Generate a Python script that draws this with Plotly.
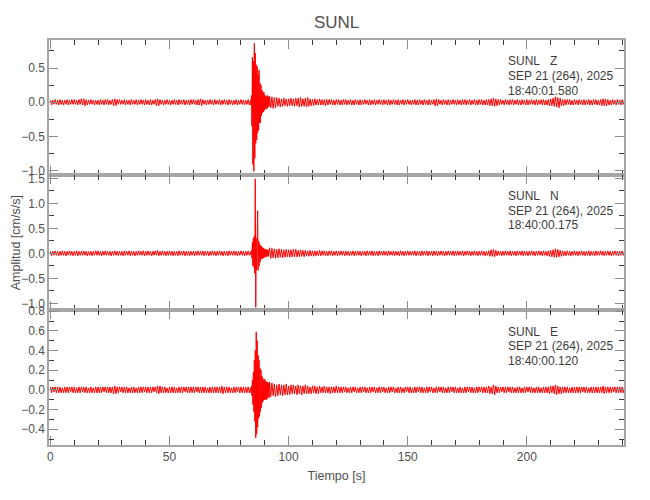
import numpy as np
import plotly.graph_objects as go
from plotly.subplots import make_subplots

# ---- data (amplitudes in hundredths of cm/s/s) ----
# segments: pre-event (0 s .. 83.5 s, every 0.5 s), event (84.0 .. 91.8 s, every 0.2 s),
# post-event (92 s .., every 0.5 s)
PRE_START, PRE_STEP = 0.0, 0.5
EVT_START, EVT_STEP = 84.0, 0.2
POST_START, POST_STEP = 92.0, 0.5

Z_PRE = [3,-4,3,-3,4,-3,3,-4,4,-3,3,-4,3,-3,4,-4,3,-3,4,-3,
         4,-3,3,-4,4,-3,5,-4,5,-5,4,-4,3,-3,4,-3,3,-4,3,-3,
         3,-4,4,-3,3,-4,4,-3,4,-4,3,-3,4,-5,5,-5,4,-3,4,-3,
         3,-3,4,-4,3,-3,3,-4,4,-3,3,-3,4,-4,3,-3,4,-3,3,-4,
         4,-3,3,-4,4,-4,3,-3,4,-5,5,-5,4,-3,3,-4,3,-3,4,-3,
         3,-4,3,-3,4,-3,3,-4,4,-3,3,-3,4,-4,3,-3,3,-4,4,-3,
         4,-3,3,-4,4,-4,5,-5,4,-3,3,-4,3,-3,4,-3,3,-4,4,-3,
         3,-3,4,-4,3,-3,4,-3,3,-4,4,-3,3,-4,3,-3,4,-4,3,-3,
         4,-3,3,-4,3,-3,4,-4]
Z_EVT = [3,-4,10,-35,66,-91,60,-101,86,-82,72,-60,55,-55,52,-45,40,-41,47,-30,
         28,-30,25,-20,18,-16,15,-14,15,-12,11,-10,9,-10,8,-9,10,-7,8,-6]
Z_POST = [9,-8,8,-9,7,-8,7,-6,6,-7,5,-6,6,-5,5,-6,5,-5,6,-5,
          5,-6,6,-5,6,-7,7,-6,5,-6,6,-7,7,-6,5,-5,4,-5,5,-4,
          4,-4,5,-4,4,-4,4,-5,4,-4,4,-3,4,-4,3,-4,4,-3,4,-4,
          3,-4,4,-3,4,-4,3,-3,4,-4,3,-4,4,-3,3,-4,4,-4,3,-3,
          4,-3,3,-4,4,-4,3,-3,4,-4,3,-3,4,-3,3,-4,4,-3,3,-4,
          4,-4,3,-3,4,-3,3,-4,4,-4,3,-3,4,-4,3,-3,4,-3,3,-4,
          3,-3,4,-4,3,-4,4,-3,3,-4,4,-3,3,-4,4,-4,3,-3,4,-5,
          5,-5,4,-3,3,-4,4,-3,3,-4,4,-4,3,-3,4,-3,3,-4,4,-3,
          3,-4,4,-3,4,-4,3,-3,4,-4,3,-3,4,-4,3,-4,4,-3,4,-4,
          3,-4,4,-4,4,-5,5,-5,6,-6,5,-5,4,-4,4,-3,3,-4,4,-3,
          3,-4,4,-3,4,-4,3,-3,4,-4,3,-4,4,-3,3,-4,4,-4,3,-3,
          4,-3,3,-4,4,-4,3,-3,4,-4,4,-4,3,-4,4,-5,5,-5,6,-6,
          8,-7,7,-8,6,-5,4,-5,4,-4,4,-3,4,-4,3,-4,4,-3,3,-4,
          4,-3,3,-4,4,-4,3,-3,4,-4,3,-4,4,-3,4,-4,3,-4,4,-5,
          5,-5,5,-5,4,-4,3,-4,4,-3,3,-4,4,-3,3,-4,4,-3,3,-4]

N_PRE = [4,-5,4,-4,5,-4,4,-5,4,-4,5,-4,4,-5,4,-4,5,-4,4,-5,
         4,-4,5,-5,4,-4,4,-4,5,-4,4,-5,4,-4,4,-5,4,-4,5,-4,
         5,-4,4,-5,4,-4,5,-4,4,-4,4,-5,4,-4,5,-4,4,-5,4,-4,
         4,-5,5,-4,4,-4,5,-5,4,-4,4,-5,4,-4,5,-4,4,-4,5,-5,
         4,-4,5,-4,4,-5,4,-4,5,-4,6,-5,4,-4,5,-4,4,-5,4,-4,
         5,-4,4,-5,4,-4,4,-5,5,-4,4,-4,5,-5,4,-4,4,-5,4,-4,
         4,-5,4,-4,5,-4,4,-4,5,-5,4,-4,4,-5,4,-4,5,-4,4,-5,
         4,-4,5,-4,4,-5,4,-4,4,-5,5,-4,4,-4,5,-4,4,-5,4,-4,
         5,-4,4,-5,4,-4,5,-4]
N_EVT = [3,-3,6,-10,22,-25,30,-28,35,-40,149,-108,30,-34,28,85,-34,25,-26,20,
         -18,16,-12,14,-11,12,-10,10,-9,9,-8,8,-7,8,-7,7,-6,6,-6,6]
N_POST = [11,-10,10,-9,9,-10,8,-9,9,-8,8,-9,7,-8,8,-7,7,-8,7,-7,
          8,-7,8,-7,6,-7,7,-6,6,-7,6,-5,5,-6,6,-5,5,-6,5,-5,
          5,-5,6,-5,5,-4,5,-5,4,-5,5,-4,5,-5,4,-4,5,-5,4,-4,
          5,-4,4,-5,5,-4,4,-5,4,-4,5,-5,4,-4,5,-4,4,-5,4,-4,
          4,-5,5,-4,4,-4,5,-5,4,-4,4,-5,5,-4,4,-4,5,-4,4,-5,
          5,-4,4,-4,5,-5,4,-4,4,-5,5,-4,4,-5,4,-4,5,-4,4,-4,
          4,-4,5,-5,4,-4,4,-5,5,-4,4,-4,5,-5,4,-4,4,-5,5,-4,
          4,-5,4,-4,5,-4,4,-5,4,-4,5,-4,4,-4,5,-5,4,-4,5,-4,
          4,-4,5,-5,4,-4,5,-4,4,-5,4,-4,5,-4,4,-5,4,-4,5,-4,
          4,-5,4,-4,5,-6,7,-6,8,-7,6,-5,5,-4,4,-5,4,-4,5,-4,
          4,-4,5,-5,4,-4,4,-5,5,-4,4,-4,5,-5,4,-4,4,-5,4,-4,
          5,-4,4,-5,4,-4,5,-4,4,-5,5,-4,4,-5,5,-6,6,-7,7,-8,
          9,-8,8,-7,6,-6,5,-5,4,-5,5,-4,4,-5,4,-4,5,-4,4,-5,
          4,-4,5,-4,4,-5,4,-4,5,-5,4,-4,4,-5,5,-4,4,-4,5,-4,
          4,-5,4,-4,5,-4,4,-5,4,-4,5,-4,4,-5,4,-4,5,-4,4,-4]

E_PRE = [3,-3,3,-2,3,-3,3,-3,3,-3,2,-3,3,-3,3,-3,3,-2,3,-3,
         3,-3,2,-3,3,-3,3,-2,3,-3,3,-3,2,-3,3,-3,2,-3,3,-3,
         3,-3,3,-3,3,-2,3,-3,3,-3,3,-3,3,-4,4,-4,3,-3,3,-2,
         3,-3,3,-3,3,-3,2,-3,3,-3,3,-3,2,-3,3,-3,3,-3,3,-2,
         3,-3,3,-3,3,-3,3,-2,3,-3,4,-4,4,-3,3,-3,3,-3,2,-3,
         3,-3,3,-3,3,-3,2,-3,3,-3,3,-3,3,-2,3,-3,3,-3,3,-3,
         3,-3,3,-2,3,-3,3,-3,3,-3,3,-3,2,-3,3,-3,3,-3,3,-3,
         3,-3,3,-3,4,-4,3,-3,3,-3,3,-3,2,-3,3,-3,3,-2,3,-3,
         3,-3,3,-3,3,-3,3,-3]
E_EVT = [2,-3,4,-6,10,-15,18,-22,30,-32,40,-49,59,-45,50,-38,35,-29,30,-27,
         22,-22,20,-18,14,-13,12,-11,10,-10,11,-10,9,-10,8,-9,8,-7,7,-8]
E_POST = [8,-7,7,-6,6,-7,5,-6,6,-5,5,-6,5,-5,6,-5,4,-5,5,-4,
          5,-4,4,-5,5,-4,4,-5,4,-4,5,-4,4,-4,3,-4,4,-3,4,-4,
          3,-4,4,-3,3,-3,4,-3,3,-3,3,-4,3,-3,3,-3,4,-3,3,-3,
          3,-3,3,-2,3,-3,2,-3,3,-3,3,-2,3,-3,2,-3,3,-3,3,-2,
          3,-3,2,-3,3,-3,3,-2,3,-3,2,-3,3,-3,3,-2,3,-3,2,-3,
          3,-3,3,-2,3,-3,2,-3,3,-3,3,-3,2,-3,3,-2,3,-3,3,-3,
          2,-3,3,-3,3,-2,3,-3,3,-3,2,-3,3,-3,3,-2,3,-3,2,-3,
          3,-3,3,-2,3,-3,3,-3,2,-3,3,-3,3,-2,3,-3,3,-3,2,-3,
          3,-3,2,-3,3,-3,3,-2,3,-3,3,-3,2,-3,3,-3,3,-2,3,-3,
          3,-3,3,-3,4,-4,3,-4,5,-5,4,-3,3,-3,3,-2,3,-3,3,-3,
          3,-2,3,-3,3,-3,2,-3,3,-3,3,-3,2,-3,3,-3,3,-2,3,-3,
          3,-3,2,-3,3,-3,3,-3,2,-3,3,-3,3,-3,3,-4,4,-3,4,-4,
          5,-5,4,-4,3,-4,3,-3,3,-3,3,-3,2,-3,3,-3,3,-3,3,-3,
          3,-3,3,-2,3,-3,3,-3,2,-3,3,-3,3,-3,3,-3,3,-3,3,-3,
          4,-4,3,-3,3,-3,3,-3,3,-2,3,-3,3,-3,3,-3,3,-3,2,-3]

COMPONENTS = ["Z", "N", "E"]
STATION = "SUNL"
DATE_LINE = "SEP 21 (264), 2025"
START_TIMES = ["18:40:01.580", "18:40:00.175", "18:40:00.120"]
Y_RANGES = [[-1.063, 0.91], [-1.134, 1.566], [-0.561, 0.812]]
Y_DTICK = [0.5, 0.5, 0.2]
Y_MINOR = [0.25, 0.25, 0.1]
X_RANGE = [-0.6, 240.8]
X_TICKS = [0, 50, 100, 150, 200]
SCALE = 0.01  # hundredths -> cm/s/s


def build(pre, evt, post):
    t = np.concatenate([PRE_START + PRE_STEP * np.arange(len(pre)),
                        EVT_START + EVT_STEP * np.arange(len(evt)),
                        POST_START + POST_STEP * np.arange(len(post))])
    y = np.array(pre + evt + post, dtype=float) * SCALE
    return t, y


traces = [build(Z_PRE, Z_EVT, Z_POST),
          build(N_PRE, N_EVT, N_POST),
          build(E_PRE, E_EVT, E_POST)]

FONT = "Liberation Sans, Arial, sans-serif"
LINE_COL = "#a6a6a6"
MAJ_TICK = "#8c8c8c"
MIN_TICK = "#3a3a3a"
TXT_COL = "#505050"

fig = make_subplots(rows=3, cols=1, shared_xaxes=True, vertical_spacing=0)

for i, (t, y) in enumerate(traces):
    fig.add_trace(go.Scatter(x=t, y=y, mode="lines",
                             line=dict(color="#ff0000", width=1, simplify=False),
                             hoverinfo="skip", showlegend=False),
                  row=i + 1, col=1)
    fig.update_yaxes(row=i + 1, col=1, range=Y_RANGES[i], dtick=Y_DTICK[i], tick0=0,
                     tickformat=".1f", showline=True, mirror="allticks", automargin=False,
                     linecolor=LINE_COL, linewidth=1.5, ticks="inside", ticklen=9,
                     tickwidth=1.2, tickcolor=MAJ_TICK, showgrid=False, zeroline=False,
                     tickfont=dict(family=FONT, size=12, color=TXT_COL),
                     minor=dict(ticks="inside", ticklen=5, dtick=Y_MINOR[i], tick0=0,
                                tickcolor=MIN_TICK, tickwidth=1, showgrid=False))
    fig.update_xaxes(row=i + 1, col=1, range=X_RANGE, tickvals=X_TICKS, automargin=False,
                     showline=True, mirror="allticks", linecolor=LINE_COL, linewidth=1.5,
                     ticks="inside", ticklen=9, tickwidth=1.2, tickcolor=MAJ_TICK,
                     showgrid=False, zeroline=False,
                     showticklabels=(i == 2),
                     tickfont=dict(family=FONT, size=12, color=TXT_COL),
                     minor=dict(ticks="inside", ticklen=5, dtick=10, tick0=0,
                                tickcolor=MIN_TICK, tickwidth=1, showgrid=False))

fig.update_xaxes(row=3, col=1, title=dict(text="Tiempo [s]", standoff=8,
                                          font=dict(family=FONT, size=12.5, color=TXT_COL)))

# layout geometry (page body adds an 8 px offset on screen)
OFF = 8
W, H = 650, 500
ML, MR, MT, MB = 49.3 - OFF, W - (624 - OFF), 39.7 - OFF, H - (445 - OFF)
ph = H - MT - MB
pw = W - ML - MR


def px_x(sx):
    return (sx - OFF - ML) / pw


def px_y(sy):
    return (H - MB - (sy - OFF)) / ph


label_centers = [[61, 76, 90.5], [196, 210.5, 225], [331.5, 346, 360.5]]
annotations = []
for i, comp in enumerate(COMPONENTS):
    lines = [STATION + "\u00a0\u00a0\u00a0" + comp, DATE_LINE, START_TIMES[i]]
    for txt, yc in zip(lines, label_centers[i]):
        annotations.append(dict(text=txt, xref="paper", yref="paper",
                                x=px_x(506.5), y=px_y(yc),
                                xanchor="left", yanchor="middle", showarrow=False,
                                font=dict(family=FONT, size=12, color="#3c3c3c")))
annotations.append(dict(text="Amplitud [cm/s/s]", xref="paper", yref="paper",
                        x=px_x(16), y=px_y(242.4), textangle=-90, showarrow=False,
                        xanchor="center", yanchor="middle",
                        font=dict(family=FONT, size=12.5, color=TXT_COL)))

fig.update_layout(
    width=W, height=H,
    margin=dict(l=ML, r=MR, t=MT, b=MB, autoexpand=False),
    paper_bgcolor="white", plot_bgcolor="white",
    title=dict(text=STATION, x=(ML + pw / 2) / W, xanchor="center", y=1 - (22 - OFF) / H,
               yanchor="middle", font=dict(family=FONT, size=17, color=TXT_COL)),
    annotations=annotations,
    hovermode=False,
)

fig.write_html("out.html")
